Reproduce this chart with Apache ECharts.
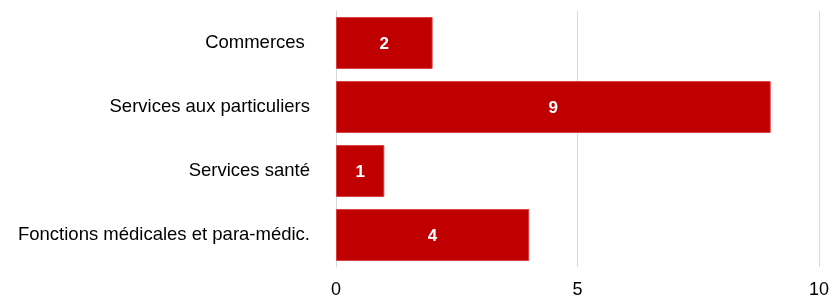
<!DOCTYPE html>
<html>
<head>
<meta charset="utf-8">
<script src="https://cdn.jsdelivr.net/npm/echarts@6/dist/echarts.min.js"></script>
<style>
  html, body { margin: 0; padding: 0; background: #fff; }
  #chart { width: 829px; height: 295px; }
</style>
</head>
<body>
<div id="chart"></div>
<script>
var categories = ['Commerces ', 'Services aux particuliers', 'Services santé', 'Fonctions médicales et para-médic.'];
var values = [2, 9, 1, 4];
var xTicks = [0, 5, 10];

var chart = echarts.init(document.getElementById('chart'));
chart.setOption({
    animation: false,
    grid: { left: 336, right: 10, top: 11, bottom: 28, outerBoundsMode: 'none' },
    xAxis: {
        type: 'value',
        min: xTicks[0],
        max: xTicks[xTicks.length - 1],
        interval: 5,
        axisLine: { show: false },
        axisTick: { show: false },
        splitLine: { lineStyle: { color: '#d9d9d9', width: 1 } },
        axisLabel: { color: '#000', fontSize: 18, fontFamily: 'Liberation Sans', margin: 14 }
    },
    yAxis: {
        type: 'category',
        inverse: true,
        data: categories,
        axisLine: { show: true, lineStyle: { color: '#d9d9d9', width: 1 } },
        axisTick: { show: false },
        axisLabel: { color: '#000', fontSize: 18.5, fontFamily: 'Liberation Sans', margin: 26, padding: [3, 0, 0, 0] }
    },
    series: [{
        type: 'bar',
        data: values,
        barCategoryGap: '19%',
        itemStyle: { color: '#c00000', borderColor: '#d83a3a', borderWidth: 1 },
        label: {
            show: true,
            position: 'inside',
            offset: [0, 1],
            color: '#fff',
            fontWeight: 'bold',
            fontSize: 17,
            fontFamily: 'Liberation Sans'
        }
    }]
});
</script>
</body>
</html>
